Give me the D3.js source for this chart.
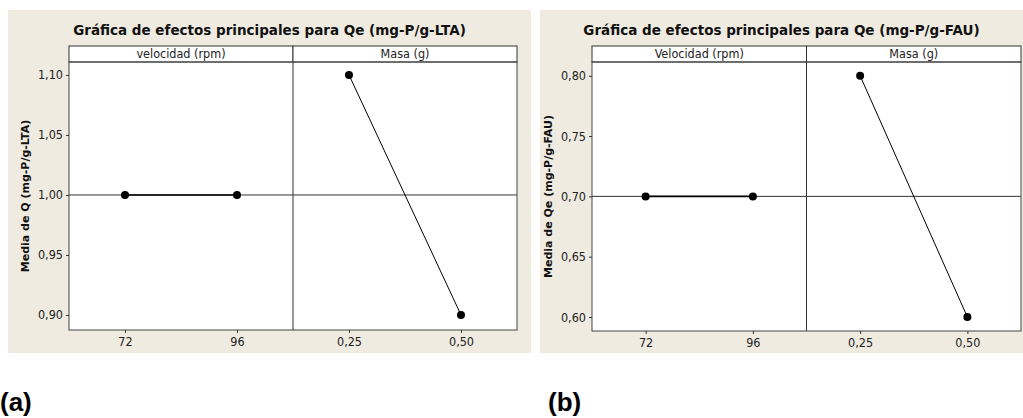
<!DOCTYPE html>
<html>
<head>
<meta charset="utf-8">
<script src="https://cdn.jsdelivr.net/npm/d3@7"></script>
<style>
  body { margin: 0; background: #fff; }
  svg { display: block; }
  .tick-txt { font-family: Tahoma, "DejaVu Sans Condensed", "DejaVu Sans", sans-serif; font-stretch: condensed; font-size: 12.5px; fill: #222; }
</style>
</head>
<body>
<svg id="chart" width="1023" height="418"></svg>
<script>
// Datos ------------------------------------------------------------
const factores = ["velocidad (rpm)", "Masa (g)"];
const factoresB = ["Velocidad (rpm)", "Masa (g)"];
const nivelesVelocidad = ["72", "96"];
const nivelesMasa = ["0,25", "0,50"];

// medias (a) LTA
const mediaVelA = [1.00, 1.00];
const mediaMasaA = [1.10, 0.90];
const ticksA = [0.90, 0.95, 1.00, 1.05, 1.10];

// medias (b) FAU
const mediaVelB = [0.70, 0.70];
const mediaMasaB = [0.80, 0.60];
const ticksB = [0.60, 0.65, 0.70, 0.75, 0.80];

const svg = d3.select("#chart");
const fmt = v => d3.format(".2f")(v).replace(".", ",");

// Dibujar un panel ---------------------------------------------------
function drawPanel(cfg) {
  const g = svg.append("g");

  // fondo beige
  g.append("rect")
    .attr("x", cfg.bx).attr("y", cfg.by)
    .attr("width", cfg.bw).attr("height", cfg.bh)
    .attr("fill", "#efebe1");

  // titulo
  g.append("text")
    .attr("x", cfg.bx + cfg.bw / 2).attr("y", 35)
    .attr("text-anchor", "middle")
    .attr("font-family", "Tahoma, 'DejaVu Sans', sans-serif")
    .attr("font-weight", "bold").attr("font-size", 13.5)
    .attr("fill", "#111")
    .text(cfg.title);

  const top = 62, bottom = cfg.bottom, headTop = 46;
  const y = d3.scaleLinear().domain(cfg.domain).range([bottom, top]);

  // area del grafico
  g.append("rect")
    .attr("x", cfg.left).attr("y", top)
    .attr("width", cfg.right - cfg.left).attr("height", bottom - top)
    .attr("fill", "#fff");

  const half = (cfg.right - cfg.left) / 2;
  const subs = [
    { name: cfg.factors[0], levels: nivelesVelocidad, vals: cfg.vel, x0: cfg.left, lw: 1.6 },
    { name: cfg.factors[1], levels: nivelesMasa, vals: cfg.masa, x0: cfg.left + half, lw: 1 }
  ];

  // linea de la media general
  g.append("line")
    .attr("x1", cfg.left).attr("x2", cfg.right)
    .attr("y1", y(cfg.mean)).attr("y2", y(cfg.mean))
    .attr("stroke", "#333").attr("stroke-width", 1);

  subs.forEach(s => {
    const x = d3.scalePoint().domain(s.levels).range([s.x0, s.x0 + half]).padding(0.5);

    // cabecera
    g.append("rect")
      .attr("x", s.x0).attr("y", headTop)
      .attr("width", half).attr("height", top - headTop)
      .attr("fill", "#fff").attr("stroke", "#333").attr("stroke-width", 1);
    g.append("text")
      .attr("class", "tick-txt")
      .attr("x", s.x0 + half / 2).attr("y", top - 4)
      .attr("text-anchor", "middle")
      .text(s.name);

    // eje x
    const ax = g.append("g")
      .attr("transform", `translate(0,${bottom})`)
      .call(d3.axisBottom(x).tickSize(3).tickPadding(4));
    ax.select(".domain").remove();
    ax.selectAll("line").attr("stroke", "#333");
    ax.selectAll("text").attr("class", "tick-txt").attr("font-size", null).attr("font-family", null);

    // lineas y puntos
    const pts = s.levels.map((l, i) => [x(l), y(s.vals[i])]);
    g.append("path")
      .attr("d", d3.line()(pts))
      .attr("fill", "none").attr("stroke", "#000").attr("stroke-width", s.lw);
    g.selectAll(null).data(pts).join("circle")
      .attr("cx", d => d[0]).attr("cy", d => d[1])
      .attr("r", 4).attr("fill", "#000");
  });

  // divisor vertical
  g.append("line")
    .attr("x1", cfg.left + half).attr("x2", cfg.left + half)
    .attr("y1", top).attr("y2", bottom)
    .attr("stroke", "#333").attr("stroke-width", 1);

  // marco
  g.append("rect")
    .attr("x", cfg.left).attr("y", top)
    .attr("width", cfg.right - cfg.left).attr("height", bottom - top)
    .attr("fill", "none").attr("stroke", "#444").attr("stroke-width", 1);

  // eje y
  const ay = g.append("g")
    .attr("transform", `translate(${cfg.left},0)`)
    .call(d3.axisLeft(y).tickValues(cfg.ticks).tickFormat(fmt).tickSize(3).tickPadding(3));
  ay.select(".domain").remove();
  ay.selectAll("line").attr("stroke", "#333");
  ay.selectAll("text").attr("class", "tick-txt").attr("font-size", null).attr("font-family", null);

  // etiqueta del eje y
  g.append("text")
    .attr("transform", `translate(${cfg.ylabX},${(top + bottom) / 2}) rotate(-90)`)
    .attr("text-anchor", "middle")
    .attr("font-family", "Tahoma, 'DejaVu Sans', sans-serif")
    .attr("font-weight", "bold").attr("font-size", 11)
    .attr("fill", "#111")
    .text(cfg.ylabel);

  // letra del panel
  svg.append("text")
    .attr("x", cfg.tagX).attr("y", 411)
    .attr("font-family", "'Liberation Sans', Arial, sans-serif")
    .attr("font-weight", "bold").attr("font-size", 26)
    .attr("fill", "#000")
    .text(cfg.tag);
}

drawPanel({
  bx: 8, by: 10, bw: 523, bh: 343,
  left: 69, right: 517, bottom: 330,
  domain: [0.8875, 1.1108],
  ticks: ticksA, vel: mediaVelA, masa: mediaMasaA, mean: 1.00,
  factors: factores,
  title: "Gráfica de efectos principales para Qe (mg-P/g-LTA)",
  ylabel: "Media de Q (mg-P/g-LTA)", ylabX: 29,
  tag: "(a)", tagX: 0
});

drawPanel({
  bx: 540, by: 10, bw: 483, bh: 343,
  left: 592, right: 1021, bottom: 331,
  domain: [0.5884, 0.8114],
  ticks: ticksB, vel: mediaVelB, masa: mediaMasaB, mean: 0.70,
  factors: factoresB,
  title: "Gráfica de efectos principales para Qe (mg-P/g-FAU)",
  ylabel: "Media de Qe (mg-P/g-FAU)", ylabX: 552,
  tag: "(b)", tagX: 548
});
</script>
</body>
</html>
